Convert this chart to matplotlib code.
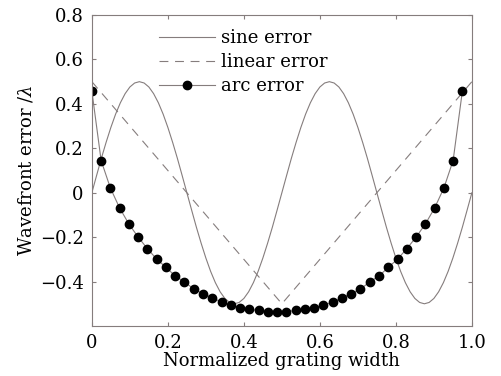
"""Wavefront error vs normalized grating width"""
import numpy as np
import matplotlib
matplotlib.use("Agg")
import matplotlib.pyplot as plt

# -----------------------------------------------------------------------------
# Data

sine_y = [0, .078, .155, .227, .294, .354, .405, .446, .476, .494, .5,
          .494, .476, .446, .405, .354, .294, .227, .155, .078, 0,
          -.078, -.155, -.227, -.294, -.354, -.405, -.446, -.476, -.494, -.5,
          -.494, -.476, -.446, -.405, -.354, -.294, -.227, -.155, -.078, 0,
          .078, .155, .227, .294, .354, .405, .446, .476, .494, .5,
          .494, .476, .446, .405, .354, .294, .227, .155, .078, 0,
          -.078, -.155, -.227, -.294, -.354, -.405, -.446, -.476, -.494, -.5,
          -.494, -.476, -.446, -.405, -.354, -.294, -.227, -.155, -.078, 0]
sine_x = np.linspace(0, 1, len(sine_y))

linear_x = [0, 0.5, 1.0]
linear_y = [0.5, -0.5, 0.5]

arc_y = [0.458, 0.145, 0.021, -0.069, -0.141, -0.200, -0.252, -0.299, -0.336,
         -0.375, -0.401, -0.434, -0.454, -0.473, -0.493, -0.506, -0.517,
         -0.525, -0.530, -0.535, -0.537,
         -0.535, -0.530, -0.525, -0.517, -0.506, -0.493, -0.473, -0.454,
         -0.434, -0.401, -0.375, -0.336, -0.299, -0.252, -0.200, -0.141,
         -0.069, 0.021, 0.145, 0.458]
arc_x = np.linspace(0, 0.975, len(arc_y))

xticks = [0, 0.2, 0.4, 0.6, 0.8, 1.0]
xticklabels = ["0", "0.2", "0.4", "0.6", "0.8", "1.0"]
yticks = [-0.4, -0.2, 0, 0.2, 0.4, 0.6, 0.8]
yticklabels = ["\u22120.4", "\u22120.2", "0", "0.2", "0.4", "0.6", "0.8"]

# -----------------------------------------------------------------------------
# Plot

plt.rcParams['font.family'] = ['DejaVu Serif']
plt.rcParams['mathtext.fontset'] = 'dejavuserif'
gray = '#857d7d'
fs = 13

fig = plt.figure(figsize=(5.02, 3.76), dpi=100)
ax = fig.add_axes([0.183, 0.133, 0.757, 0.827])

ax.plot(sine_x, sine_y, color=gray, lw=0.8, label='sine error')
ax.plot(linear_x, linear_y, color=gray, lw=0.8, dashes=(8, 6),
        label='linear error')
ax.plot(arc_x, arc_y, color=gray, lw=0.8, marker='o', ms=6,
        mfc='black', mec='black', label='arc error')

ax.set_xlim(0, 1)
ax.set_ylim(-0.6, 0.8)
ax.set_xticks(xticks)
ax.set_xticklabels(xticklabels)
ax.set_yticks(yticks)
ax.set_yticklabels(yticklabels)
ax.tick_params(direction='in', length=3, color=gray, labelsize=fs,
               top=True, right=True, pad=6)
for spine in ax.spines.values():
    spine.set_color(gray)
    spine.set_linewidth(0.8)

ax.set_xlabel('Normalized grating width', fontsize=fs, labelpad=0)
ax.set_ylabel('Wavefront error /$\\it{\\lambda}$', fontsize=fs, labelpad=3)

ax.legend(loc='upper left', bbox_to_anchor=(0.147, 0.99), frameon=False,
          fontsize=fs, handlelength=3.1, handletextpad=0.35,
          labelspacing=0.33, numpoints=1, borderaxespad=0.2)

fig.savefig('out.png', dpi=100)
